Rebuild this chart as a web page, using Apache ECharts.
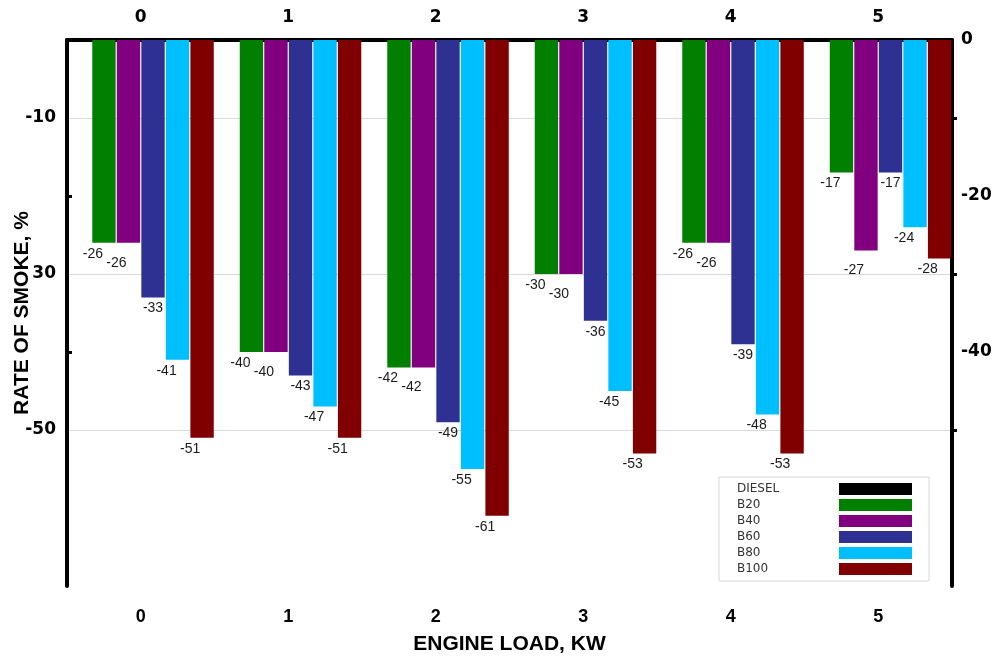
<!DOCTYPE html>
<html>
<head>
<meta charset="utf-8">
<title>Rate of smoke</title>
<script src="https://cdn.jsdelivr.net/npm/echarts@6/dist/echarts.min.js"></script>
<style>
  html, body { margin: 0; padding: 0; background: #fff; }
  #chart { width: 993px; height: 658px; }
</style>
</head>
<body>
<div id="chart"></div>
<script>
// engine load categories
const loads = ['0', '1', '2', '3', '4', '5']

// rate of smoke per fuel blend
const diesel = [0, 0, 0, 0, 0, 0]
const b20 = [-26, -40, -42, -30, -26, -17]
const b40 = [-26, -40, -42, -30, -26, -27]
const b60 = [-33, -43, -49, -36, -39, -17]
const b80 = [-41, -47, -55, -45, -48, -24]
const b100 = [-51, -51, -61, -53, -53, -28]

// axis tick labels as they appear
const leftLabelValues = [-10, -30, -50]
const leftLabelTexts = ['-10', '30', '-50']
const rightLabelValues = [0, -20, -40]

const numFont = 'DejaVu Sans'
const titleFont = 'Liberation Sans'
const black = '#000'

const myChart = echarts.init(document.getElementById('chart'))

function barSeries(name, data, color, labelOffset, showLabel) {
  return {
    name: name,
    type: 'bar',
    data: data,
    xAxisIndex: 0,
    yAxisIndex: 0,
    barCategoryGap: '1%',
    barGap: '5%',
    itemStyle: { color: color },
    label: {
      show: showLabel,
      position: 'bottom',
      distance: 4,
      offset: labelOffset,
      color: '#1a1a1a',
      fontFamily: 'Liberation Sans',
      fontSize: 14
    }
  }
}

const option = {
  animation: false,
  backgroundColor: '#fff',
  grid: { left: 67, right: 41, top: 40, bottom: 72, outerBoundsMode: 'none', containLabel: false },
  legend: {
    orient: 'vertical',
    left: 719,
    top: 477,
    align: 'right',
    icon: 'rect',
    itemWidth: 73,
    itemHeight: 12,
    itemGap: 4,
    padding: [6, 17, 6, 18],
    backgroundColor: '#fff',
    borderColor: '#d8d8d8',
    borderWidth: 1,
    formatter: '{a|{name}}',
    textStyle: {
      rich: {
        a: { width: 97, align: 'left', fontFamily: 'DejaVu Sans', fontSize: 12, color: '#333' }
      }
    },
    data: ['DIESEL', 'B20', 'B40', 'B60', 'B80', 'B100']
  },
  xAxis: [
    {
      type: 'category',
      position: 'bottom',
      data: loads,
      name: 'ENGINE LOAD, KW',
      nameLocation: 'middle',
      nameGap: 48,
      nameMoveOverlap: false,
      nameTextStyle: { fontFamily: titleFont, fontWeight: 'bold', fontSize: 21, color: black },
      axisLine: { lineStyle: { color: black, width: 4 } },
      axisTick: { alignWithLabel: true, inside: false, length: 9, lineStyle: { color: black, width: 3 } },
      axisLabel: { margin: 22, fontFamily: titleFont, fontWeight: 'bold', fontSize: 18, color: black },
      splitLine: { show: false }
    },
    {
      type: 'category',
      position: 'top',
      data: loads,
      axisLine: { lineStyle: { color: black, width: 3 } },
      axisTick: { alignWithLabel: true, inside: true, length: 8, lineStyle: { color: black, width: 3 } },
      axisLabel: { margin: 14, fontFamily: numFont, fontWeight: 'bold', fontSize: 17, color: black },
      splitLine: { show: false }
    }
  ],
  yAxis: [
    {
      type: 'value',
      position: 'left',
      min: -70,
      max: 0,
      interval: 10,
      name: 'RATE OF SMOKE, %',
      nameLocation: 'middle',
      nameGap: 34,
      nameMoveOverlap: false,
      nameTextStyle: { fontFamily: titleFont, fontWeight: 'bold', fontSize: 21, color: black },
      axisLine: { show: true, lineStyle: { color: black, width: 4 } },
      axisTick: { show: true, inside: true, length: 5, customValues: [-20, -40], lineStyle: { color: black, width: 3 } },
      axisLabel: {
        customValues: leftLabelValues,
        formatter: function (v) {
          const i = leftLabelValues.indexOf(v)
          return i >= 0 ? leftLabelTexts[i] : ''
        },
        margin: 11,
        fontFamily: numFont,
        fontWeight: 'bold',
        fontSize: 17,
        color: black
      },
      splitLine: { show: false }
    },
    {
      type: 'value',
      position: 'right',
      min: -70,
      max: 0,
      interval: 10,
      axisLine: { show: true, lineStyle: { color: black, width: 4 } },
      axisTick: { show: true, inside: false, length: 5, customValues: [-10, -30, -50], lineStyle: { color: black, width: 3 } },
      axisLabel: {
        customValues: rightLabelValues,
        margin: 9,
        fontFamily: numFont,
        fontWeight: 'bold',
        fontSize: 17,
        color: black
      },
      // grid lines follow the tick values (-10, -30, -50)
      splitLine: { show: true, lineStyle: { color: '#d9d9d9', width: 1 } }
    }
  ],
  series: [
    barSeries('DIESEL', diesel, '#000000', [0, 0], false),
    barSeries('B20', b20, '#007f00', [-11, 0], true),
    barSeries('B40', b40, '#800080', [-12, 9], true),
    barSeries('B60', b60, '#2e3192', [0, 0], true),
    barSeries('B80', b80, '#00bfff', [-11, 0], true),
    barSeries('B100', b100, '#800000', [-12, 0], true)
  ]
}

myChart.setOption(option)
</script>
</body>
</html>
